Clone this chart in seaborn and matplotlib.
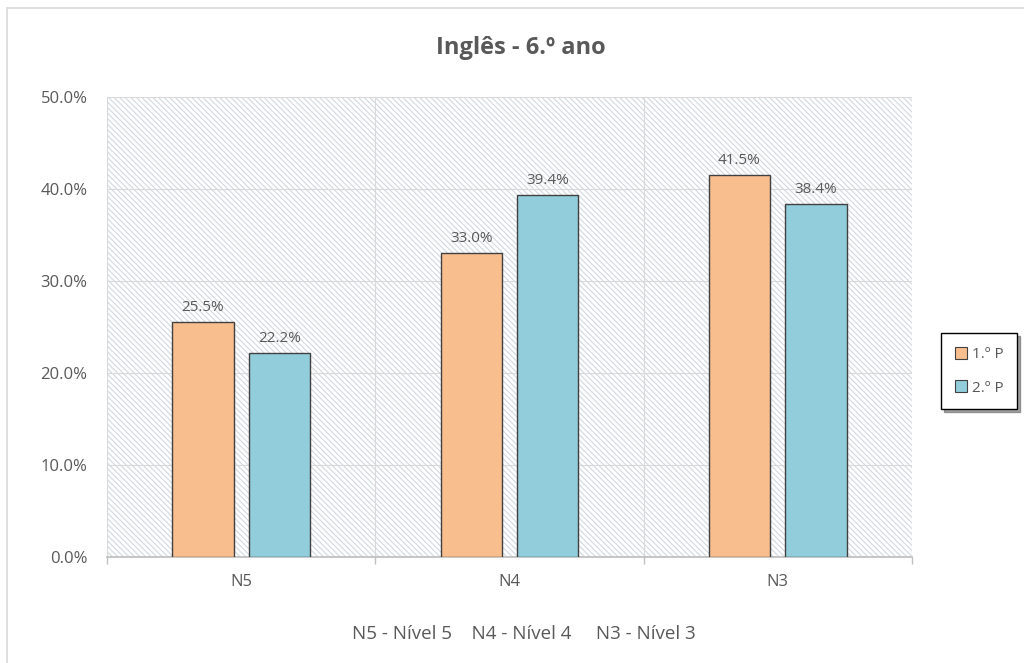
import matplotlib
matplotlib.use("Agg")
import matplotlib.pyplot as plt
import matplotlib.patches as mpatches
from matplotlib.ticker import FuncFormatter, FixedLocator
import pandas as pd
import seaborn as sns

# data
levels = ["N5", "N4", "N3"]
periods = ["1.º P", "2.º P"]
p1_values = [25.5, 33.0, 41.5]
p2_values = [22.2, 39.4, 38.4]
yticks = [0, 10, 20, 30, 40, 50]

df = pd.DataFrame({
    "level": levels * 2,
    "period": [periods[0]] * 3 + [periods[1]] * 3,
    "value": p1_values + p2_values,
})

sns.set_theme(style="white")
plt.rcParams["font.family"] = ["Open Sans", "DejaVu Sans"]
plt.rcParams["hatch.linewidth"] = 0.8
plt.rcParams["hatch.color"] = "#D0D9DF"

text_col = "#595959"
palette = {periods[0]: "#F9BE8E", periods[1]: "#92CDDC"}

fig = plt.figure(figsize=(10.24, 6.63), dpi=100)
ax = fig.add_axes([0.1045, 0.1599, 0.786, 0.6938])

# outer chart frame
fig.patches.append(mpatches.Rectangle((0.007, -0.01), 1.1, 0.998, transform=fig.transFigure,
                                      fill=False, edgecolor="#D9D9D9", lw=1.2))

# hatched plot area
ax.set_facecolor("white")
ax.add_patch(mpatches.Rectangle((0, 0), 1, 1, transform=ax.transAxes, facecolor="white",
                                edgecolor="#D0D9DF", hatch="\\" * 6, lw=0, zorder=0.1))

sns.barplot(data=df, x="level", y="value", hue="period", palette=palette, width=0.57, gap=0.2,
            saturation=1, edgecolor="#404040", linewidth=1.0, ax=ax, legend=False, zorder=3)

for container in ax.containers:
    ax.bar_label(container, labels=[f"{v:.1f}%" for v in container.datavalues], padding=5,
                 fontsize=11, color=text_col)

ax.set_ylim(0, 50)
ax.set_xlim(-0.5, 2.5)
ax.set_yticks(yticks)
ax.yaxis.set_major_formatter(FuncFormatter(lambda v, p: f"{v:.1f}%"))
ax.set_axisbelow(True)
ax.yaxis.grid(True, color="#D9D9D9", lw=0.8)
ax.xaxis.set_minor_locator(FixedLocator([-0.5, 0.5, 1.5, 2.5]))
ax.xaxis.grid(True, which="minor", color="#D9D9D9", lw=0.8)
ax.tick_params(axis="x", which="major", length=0, pad=12, labelsize=12, labelcolor=text_col)
ax.tick_params(axis="x", which="minor", length=5, color="#BFBFBF", bottom=True)
ax.tick_params(axis="y", length=0, pad=14, labelsize=12, labelcolor=text_col)
ax.set_xlabel("")
ax.set_ylabel("")
for side in ["left", "right", "top"]:
    ax.spines[side].set_visible(False)
ax.spines["bottom"].set_color("#BFBFBF")

fig.text(0.509, 0.927, "Inglês - 6.º ano", ha="center", va="center", fontsize=17,
         fontweight="bold", color=text_col)
fig.text(0.512, 0.044, "N5 - Nível 5    N4 - Nível 4     N3 - Nível 3", ha="center", va="center",
         fontsize=13.5, color=text_col)

handles = [mpatches.Patch(facecolor=palette[p], edgecolor="#404040", lw=0.8, label=p) for p in periods]
leg = fig.legend(handles=handles, loc="center", bbox_to_anchor=(0.956, 0.44), frameon=True,
                 fancybox=False, shadow=True, fontsize=11, handlelength=0.8, handleheight=0.8,
                 handletextpad=0.3, labelspacing=1.2, borderpad=0.9, labelcolor=text_col)
leg.get_frame().set_edgecolor("black")
leg.get_frame().set_linewidth(1.0)

fig.savefig("out.png", dpi=100)
